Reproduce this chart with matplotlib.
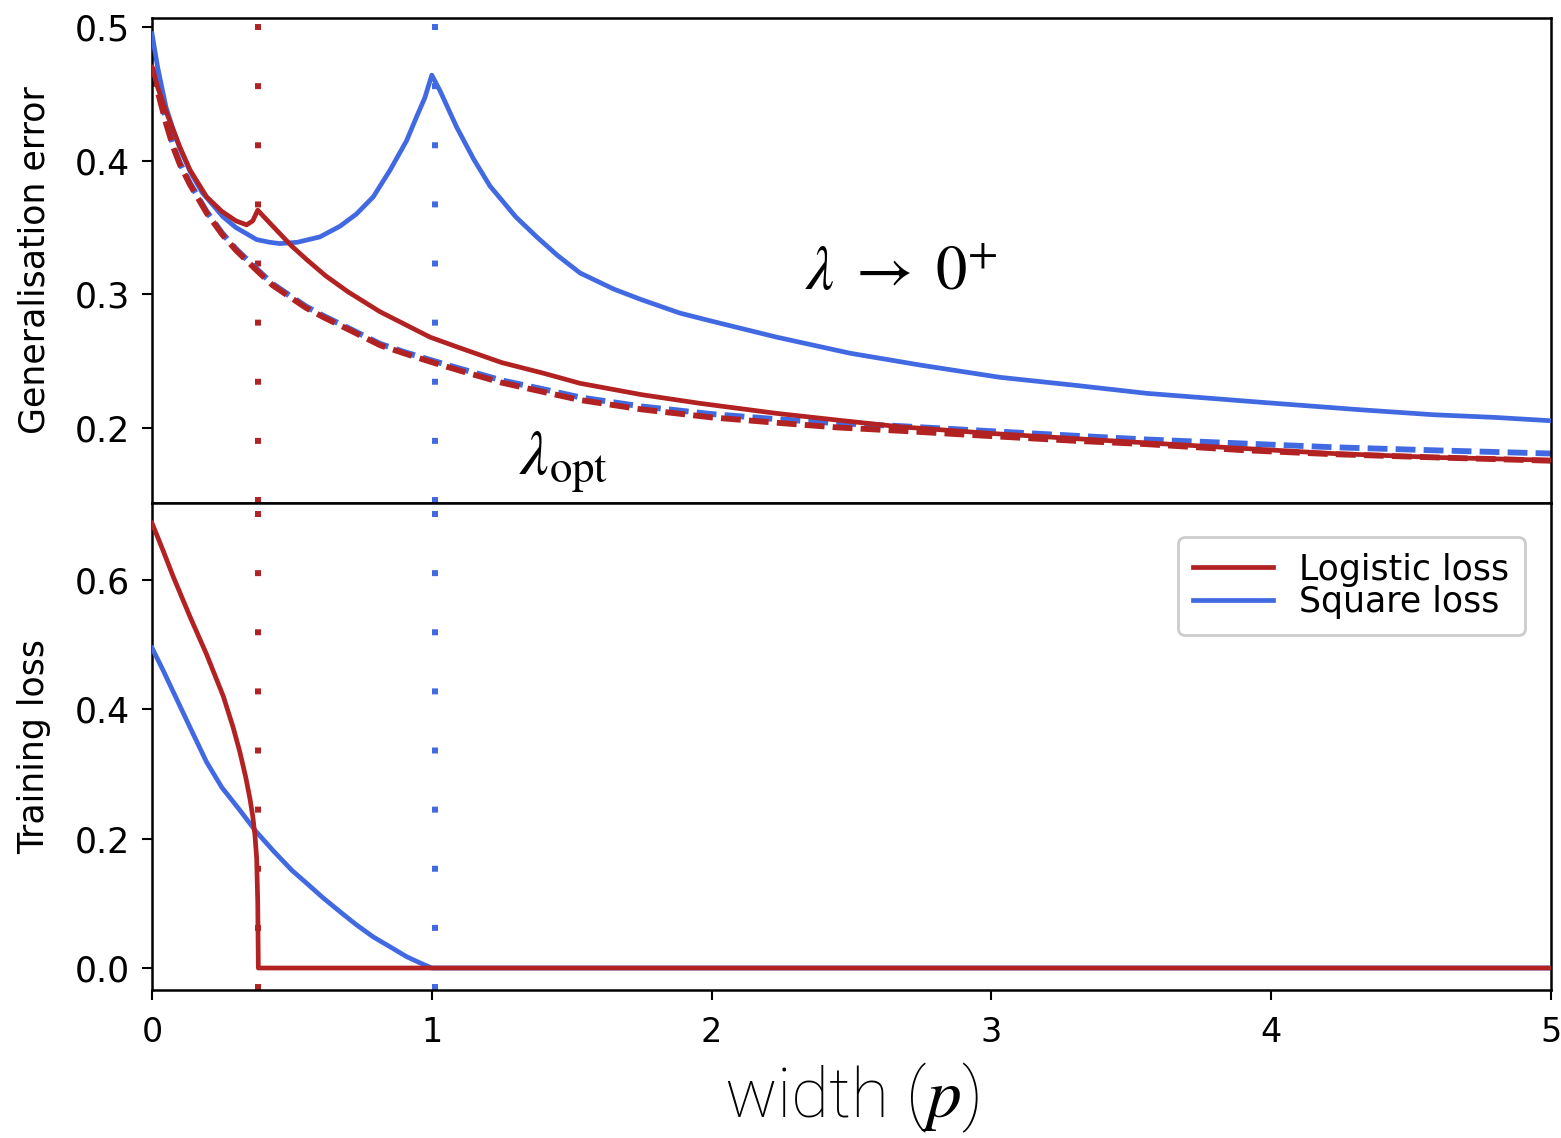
import numpy as np
import matplotlib
matplotlib.use("Agg")
import matplotlib.pyplot as plt

plt.rcParams['mathtext.fontset'] = 'stix'
plt.rcParams['font.family'] = ['DejaVu Sans']

red = '#b22222'
blue = '#4169e1'

# generalisation error, lambda -> 0+
sq_zero_x = [0.0, 0.02, 0.05, 0.076, 0.1, 0.136, 0.18, 0.254, 0.3, 0.374, 0.42, 0.457, 0.52, 0.6,
             0.672, 0.73, 0.791, 0.851, 0.91, 0.946, 0.975, 1.0,
             1.03, 1.089, 1.15, 1.208, 1.3, 1.375, 1.45, 1.53, 1.65, 1.75, 1.887, 2.0, 2.233,
             2.495, 2.75, 3.03, 3.3, 3.555, 3.8, 3.984, 4.3, 4.58, 4.8, 5.0]
sq_zero_y = [0.495, 0.47, 0.44, 0.423, 0.409, 0.392, 0.376, 0.358, 0.350, 0.341, 0.339, 0.338, 0.339, 0.343,
             0.351, 0.360, 0.373, 0.393, 0.415, 0.433, 0.447, 0.464,
             0.452, 0.425, 0.401, 0.381, 0.358, 0.343, 0.329, 0.316, 0.304, 0.296, 0.286, 0.280, 0.268,
             0.256, 0.247, 0.238, 0.232, 0.226, 0.222, 0.219, 0.214, 0.210, 0.208, 0.2055]
log_zero_x = [0.0, 0.02, 0.05, 0.076, 0.1, 0.136, 0.195, 0.25, 0.3, 0.338, 0.36, 0.378, 0.4, 0.45, 0.5,
              0.553, 0.62, 0.7, 0.815, 0.9, 0.994, 1.1, 1.25, 1.4, 1.53, 1.75, 1.959, 2.233, 2.45,
              2.673, 3.0, 3.388, 3.8, 4.22, 4.6, 5.0]
log_zero_y = [0.47, 0.455, 0.437, 0.423, 0.41, 0.393, 0.373, 0.362, 0.355, 0.352, 0.355, 0.363, 0.358,
              0.347, 0.336, 0.326, 0.314, 0.302, 0.287, 0.278, 0.268, 0.26, 0.249, 0.241, 0.2335, 0.225,
              0.2185, 0.211, 0.206, 0.201, 0.196, 0.191, 0.186, 0.181, 0.178, 0.176]

# generalisation error, lambda opt
log_opt_x = [0.0, 0.02, 0.05, 0.076, 0.1, 0.136, 0.195, 0.25, 0.3, 0.374, 0.43, 0.493, 0.55, 0.612,
             0.7, 0.815, 0.9, 0.994, 1.1, 1.25, 1.4, 1.53, 1.75, 2.0, 2.233, 2.45, 2.673, 3.0, 3.3,
             3.555, 3.9, 4.22, 4.6, 5.0]
log_opt_y = [0.47, 0.452, 0.428, 0.41, 0.397, 0.382, 0.361, 0.345, 0.333, 0.318, 0.307, 0.298, 0.29,
             0.283, 0.274, 0.262, 0.256, 0.2497, 0.243, 0.234, 0.227, 0.221, 0.214, 0.208, 0.204,
             0.2005, 0.198, 0.194, 0.1905, 0.188, 0.1835, 0.1805, 0.178, 0.1756]
sq_opt_x = [0.0, 0.02, 0.05, 0.076, 0.1, 0.136, 0.195, 0.25, 0.3, 0.374, 0.43, 0.493, 0.55, 0.612,
            0.7, 0.815, 0.9, 0.994, 1.1, 1.25, 1.4, 1.53, 1.75, 2.0, 2.233, 2.45, 2.673, 3.0, 3.3,
            3.555, 3.9, 4.22, 4.6, 5.0]
sq_opt_y = [0.49, 0.46, 0.43, 0.411, 0.398, 0.383, 0.362, 0.346, 0.334, 0.319, 0.308, 0.299, 0.291,
            0.284, 0.275, 0.263, 0.257, 0.251, 0.2445, 0.2357, 0.229, 0.223, 0.2162, 0.2105, 0.2067,
            0.2037, 0.2015, 0.1977, 0.1943, 0.1915, 0.1885, 0.1857, 0.1833, 0.181]

# training loss
log_train_x = [0.0, 0.04, 0.076, 0.136, 0.195, 0.255, 0.29, 0.314, 0.335, 0.35, 0.36, 0.368, 0.374,
               0.378, 0.38, 5.0]
log_train_y = [0.688, 0.645, 0.605, 0.543, 0.485, 0.42, 0.372, 0.334, 0.295, 0.262, 0.235, 0.205,
               0.17, 0.1, 0.0, 0.0]
sq_train_x = [0.0, 0.04, 0.076, 0.136, 0.195, 0.25, 0.314, 0.37, 0.434, 0.5, 0.553, 0.61, 0.672,
              0.73, 0.791, 0.85, 0.91, 0.96, 1.0, 5.0]
sq_train_y = [0.495, 0.46, 0.427, 0.372, 0.3185, 0.279, 0.244, 0.212, 0.181, 0.151, 0.131, 0.109,
              0.087, 0.067, 0.048, 0.033, 0.0175, 0.0075, 0.0, 0.0]

# interpolation thresholds
thr_log = 0.38
thr_sq = 1.01

fig = plt.figure(figsize=(15.61, 11.38), dpi=100)
ax1 = fig.add_axes([152/1561, 1-503/1138, 1399/1561, 485/1138])
ax2 = fig.add_axes([152/1561, 1-990/1138, 1399/1561, 487/1138])

lw = 3.4
dash = (0, (3.4, 1.4))
dot = (0, (1, 8.9))

for ax in (ax1, ax2):
    ax.axvline(thr_log, color=red, lw=4.3, ls=dot, dash_capstyle='butt', zorder=1)
    ax.axvline(thr_sq, color=blue, lw=4.3, ls=dot, dash_capstyle='butt', zorder=1)

ax1.plot(sq_zero_x, sq_zero_y, color=blue, lw=lw, zorder=3)
ax1.plot(log_zero_x, log_zero_y, color=red, lw=lw, zorder=4)
ax1.plot(sq_opt_x, sq_opt_y, color=blue, lw=4.2, ls=dash, zorder=2)
ax1.plot(log_opt_x, log_opt_y, color=red, lw=4.2, ls=dash, zorder=2.5)

ax2.plot(sq_train_x, sq_train_y, color=blue, lw=lw, label='Square loss', zorder=3)
ax2.plot(log_train_x, log_train_y, color=red, lw=lw, label='Logistic loss', zorder=4)

ax1.text(2.334, 0.3033, r'$\lambda\;\rightarrow\;0^{+}$', fontsize=45, va='baseline', ha='left')
ax1.text(1.31, 0.165, r'$\lambda_{\mathrm{opt}}$', fontsize=46, va='baseline', ha='left')

ax1.set_xlim(0, 5)
ax2.set_xlim(0, 5)
ax1.set_ylim(0.144, 0.5067)
ax2.set_ylim(-0.034, 0.719)
ax1.set_yticks([0.2, 0.3, 0.4, 0.5])
ax2.set_yticks([0.0, 0.2, 0.4, 0.6])
ax2.set_xticks([0, 1, 2, 3, 4, 5])
ax1.set_xticks([])

for ax in (ax1, ax2):
    for s in ax.spines.values():
        s.set_linewidth(1.8)
    ax.tick_params(axis='y', labelsize=25, length=7, width=1.5, pad=9)
ax2.tick_params(axis='x', labelsize=24, length=7, width=1.5, pad=12)

ax1.set_ylabel('Generalisation error', fontsize=25)
ax2.set_ylabel('Training loss', fontsize=25)
ax1.yaxis.set_label_coords(-0.072, 0.5)
ax2.yaxis.set_label_coords(-0.072, 0.5)
ax2.set_xlabel('width ($p$)', fontsize=50, family='Roboto', fontweight='light', labelpad=8)

h, l = ax2.get_legend_handles_labels()
leg = ax2.legend(h[::-1], l[::-1], loc='upper right', bbox_to_anchor=(1 - 26/1399, 1 - 34/487),
                 fontsize=25, handlelength=2.3, handletextpad=0.75, labelspacing=-0.05,
                 borderpad=0.45, borderaxespad=0, fancybox=True, framealpha=1)
leg.get_frame().set_edgecolor('#cccccc')
leg.get_frame().set_linewidth(2)

fig.savefig('out.png', dpi=100)
